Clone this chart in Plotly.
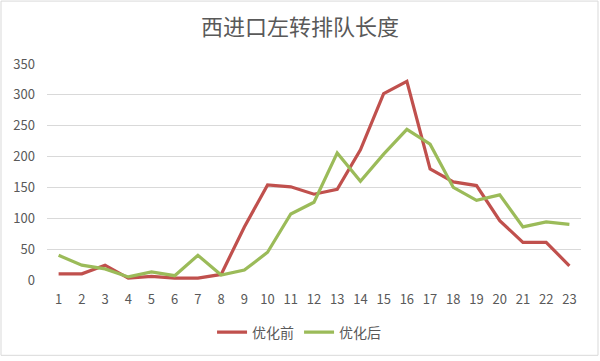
import plotly.graph_objects as go

hours = [str(i) for i in range(1, 24)]
before = [10, 10, 24, 3, 6, 3, 3, 9, 86, 154, 151, 139, 147, 211, 302, 322, 180, 159, 153, 96, 61, 61, 23]
after = [40, 24, 18, 5, 13, 7, 40, 8, 16, 45, 107, 126, 206, 160, 204, 244, 220, 150, 129, 138, 86, 94, 90]
y_ticks = [0, 50, 100, 150, 200, 250, 300, 350]

fig = go.Figure()
fig.add_trace(go.Scatter(x=hours, y=before, mode="lines", name="优化前",
                         line=dict(color="#C0504D", width=3.2)))
fig.add_trace(go.Scatter(x=hours, y=after, mode="lines", name="优化后",
                         line=dict(color="#9BBB59", width=3.2)))

font_family = "Noto Sans CJK SC, sans-serif"
fig.update_layout(
    width=600, height=361,
    margin=dict(l=47, r=19, t=64, b=79),
    paper_bgcolor="white", plot_bgcolor="white",
    title=dict(text="西进口左转排队长度", x=0.5, xanchor="center", y=1 - 27 / 361, yanchor="middle",
               font=dict(family=font_family, size=22, color="#595959")),
    xaxis=dict(type="category", range=[-0.5, 22.5], showgrid=False, zeroline=False, showline=False,
               tickfont=dict(family=font_family, size=13, color="#595959"), ticks="",
               ticklabelstandoff=10),
    yaxis=dict(range=[0, 350], tickvals=y_ticks, showgrid=True, gridcolor="#D9D9D9", gridwidth=1,
               zeroline=False, showline=False,
               tickfont=dict(family=font_family, size=13, color="#595959"), ticks="",
               ticklabelstandoff=11),
    legend=dict(orientation="h", x=0.472, xanchor="center", y=-53 / 218, yanchor="middle",
                font=dict(family=font_family, size=14, color="#595959")),
    showlegend=True,
    shapes=[dict(type="rect", xref="paper", yref="paper",
                 x0=-46 / 534, x1=1 + 17 / 534, y0=-76 / 218, y1=1 + 63.5 / 218,
                 line=dict(color="#D9D9D9", width=1), layer="below")],
)

fig.write_html("out.html", config={"displayModeBar": False},
               post_script="document.body.style.margin='0';document.body.style.overflow='hidden';")
